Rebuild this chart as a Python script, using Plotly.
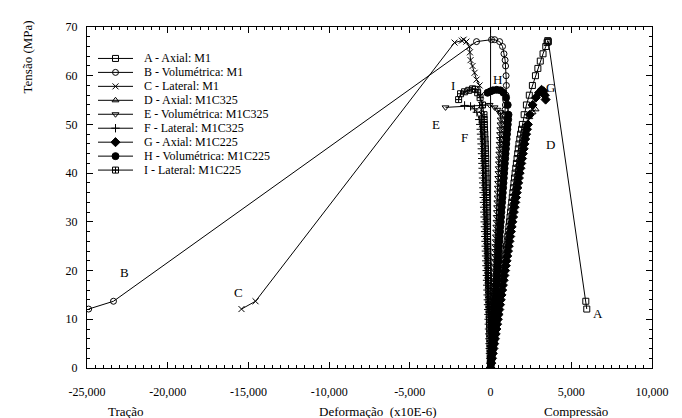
import plotly.graph_objects as go

# ---------------- data (strain x10E-6, stress MPa) ----------------
# stress levels read along the steep (pre-peak) part of the curves
lvl = [0, 1, 2, 3, 4, 5, 6, 7, 8, 9, 10, 11, 12, 13, 14, 15, 16, 17, 18, 19,
       20, 21, 22, 23, 24, 25, 26, 27, 28, 29, 30, 31, 32, 33, 34, 35, 36, 37, 38, 39,
       40, 41, 42, 43, 44, 45, 46, 47, 48, 49, 50, 51, 52, 53, 54, 55, 56]

A_strain = [0, 35, 70, 110, 150, 190, 230, 270, 310, 350, 390, 430, 470, 510, 550, 590, 630, 670, 710, 750,
            790, 830, 870, 910, 950, 990, 1030, 1065, 1100, 1135, 1170, 1205, 1240, 1275, 1310, 1345, 1380, 1415,
            1450, 1485, 1520, 1560, 1600, 1640, 1680, 1720, 1760, 1810, 1860, 1915, 1970,
            2080, 2220, 2400, 2590, 2780, 2930, 3080, 3250, 3420, 3500, 3540, 3580, 5900, 5960]
A_stress = lvl[:51] + [52, 54, 56, 58, 60, 61.5, 63, 64.5, 66, 66.8, 67.2, 67, 13.7, 12.1]

B_strain = [0, 16, 33, 50, 67, 84, 101, 118, 135, 152, 169, 186, 203, 220, 237, 254, 271, 288, 305, 322,
            339, 356, 373, 390, 407, 424, 441, 458, 475, 492, 509, 526, 543, 560, 577, 594, 611, 628, 645, 662,
            679, 696, 713, 730, 747, 764, 781, 798, 815, 832, 849, 866, 883, 900, 918, 936, 954,
            980, 960, 930, 900, 830, 740, 560, 250, 60, -870, -23360, -24900]
B_stress = lvl[:57] + [58, 60, 62, 63.2, 64.5, 66, 67, 67.4, 67.4, 67, 13.7, 12.1]

C_strain = [0, -10, -20, -30, -40, -50, -60, -70, -80, -90, -100, -110, -120, -130, -140, -150, -160, -170,
            -180, -190, -200, -210, -220, -230, -240, -250, -260, -270, -280, -290, -300, -310, -320, -330,
            -340, -350, -360, -370, -380, -390, -400, -410, -420, -430, -440, -450, -462, -475, -490, -505,
            -520, -535, -550, -565, -580,
            -610, -680, -870, -990, -1115, -1240, -1280, -1320, -1500, -1670, -1780, -2230, -14560, -15430]
C_stress = lvl[:55] + [56, 58, 59.2, 60.6, 62, 63.2, 64.8, 66, 67, 67.4, 67.2, 66.8, 13.7, 12.1]

D_strain = [0, 40, 82, 124, 166, 208, 250, 292, 334, 376, 418, 460, 502, 544, 586, 628, 670, 712, 754, 796,
            838, 880, 922, 964, 1006, 1048, 1090, 1132, 1174, 1216, 1258, 1300, 1342, 1384, 1426, 1468, 1510,
            1552, 1594, 1636, 1678, 1722, 1766, 1810, 1856, 1904, 1954, 2006, 2062, 2124, 2196,
            2400, 2600, 2790]
D_stress = lvl[:51] + [51.5, 52.5, 53.1]

E_strain = [0, 12, 25, 37, 49, 62, 74, 86, 98, 111, 123, 135, 148, 160, 172, 185, 197, 209, 221, 234,
            246, 258, 271, 283, 295, 308, 320, 332, 344, 357, 369, 381, 394, 406, 418, 431, 443, 455, 467, 480,
            492, 504, 517, 529, 541, 554, 566, 578, 590, 603, 615, 627, 640,
            620, 430, 250, -60, -2790]
E_stress = lvl[:53] + [52.5, 53, 53.5, 54, 53.5]

F_strain = [0, -12, -24, -36, -48, -60, -72, -84, -96, -108, -120, -132, -144, -156, -168, -180, -192, -204,
            -216, -228, -240, -252, -264, -276, -288, -300, -312, -324, -336, -348, -360, -372, -384, -396,
            -408, -420, -432, -444, -456, -468, -480, -492, -504, -516, -528, -540, -555, -570, -590, -610,
            -640, -700,
            -850, -1000, -1240, -1610]
F_stress = lvl[:52] + [52.5, 53.2, 53.7, 53.9]

G_strain = [0, 45, 90, 135, 180, 225, 270, 315, 360, 405, 450, 495, 540, 585, 630, 675, 720, 765, 810, 855,
            900, 945, 990, 1035, 1080, 1125, 1170, 1215, 1260, 1305, 1350, 1395, 1440, 1485, 1530, 1575, 1620,
            1665, 1710, 1755, 1800, 1850, 1900, 1950, 2000, 2050, 2100, 2150, 2200, 2255, 2310,
            2430, 2600, 2800, 3000, 3160, 3280, 3360, 3410]
G_stress = lvl[:51] + [52, 54, 55.5, 56.5, 57.1, 56.8, 56, 55.1]

H_strain = [0, 21, 42, 63, 84, 105, 126, 147, 168, 189, 210, 231, 252, 273, 294, 315, 336, 357, 378, 399,
            420, 441, 462, 483, 504, 525, 546, 567, 588, 609, 630, 651, 672, 693, 714, 735, 756, 777, 798, 819,
            840, 862, 884, 906, 928, 950, 972, 995, 1018, 1042, 1066, 1090, 1110,
            1060, 960, 800, 600, 380, 150, 0, -190]
H_stress = lvl[:53] + [54, 55.5, 56.5, 57, 57.1, 57, 56.8, 56.5]

I_strain = [0, -7, -14, -21, -28, -35, -42, -49, -56, -63, -70, -77, -84, -91, -98, -105, -112, -119, -126,
            -133, -140, -147, -154, -161, -168, -175, -182, -189, -196, -203, -210, -217, -224, -231, -238,
            -245, -252, -259, -266, -273, -280, -287, -294, -301, -308, -318, -330, -345, -360, -375,
            -385, -395, -405,
            -500, -650, -800, -950, -1115, -1350, -1610, -1860, -1980]
I_stress = lvl[:53] + [54, 55.5, 56.5, 57.2, 57.3, 57, 56.7, 56.3, 55.1]

series_names = ["A - Axial: M1", "B - Volumétrica: M1", "C - Lateral: M1",
                "D - Axial: M1C325", "E - Volumétrica: M1C325", "F - Lateral: M1C325",
                "G - Axial: M1C225", "H - Volumétrica: M1C225", "I - Lateral: M1C225"]
series_x = [A_strain, B_strain, C_strain, D_strain, E_strain, F_strain, G_strain, H_strain, I_strain]
series_y = [A_stress, B_stress, C_stress, D_stress, E_stress, F_stress, G_stress, H_stress, I_stress]
symbols = ["square-open", "circle-open", "x-thin-open", "triangle-up-open", "triangle-down-open",
           "cross-thin-open", "diamond", "circle", "square-cross-open"]
sizes = [6, 6, 6, 6, 6, 6, 7, 7, 6]

label_text = ["A", "B", "C", "D", "E", "F", "G", "H", "I"]
label_x = [6630, -22680, -15610, 3720, -3410, -1610, 3720, 430, -2350]
label_y = [11.1, 19.6, 15.5, 45.8, 49.9, 47.4, 57.5, 59.2, 57.9]

x_tickvals = [-25000, -20000, -15000, -10000, -5000, 0, 5000, 10000]
x_ticktext = ["-25,000", "-20,000", "-15,000", "-10,000", "-5,000", "0", "5,000", "10,000"]
y_tickvals = [0, 10, 20, 30, 40, 50, 60, 70]

FONT = "Liberation Serif"
W, H = 682, 418
L, R, T, B = 79, 38, 13, 58
PW, PH = W - L - R, H - T - B


def px_to_paper_x(px):
    return (px - L) / PW


def px_to_paper_y(py):
    return (H - B - py) / PH


fig = go.Figure()

for name, xs, ys, sym, sz in zip(series_names, series_x, series_y, symbols, sizes):
    fig.add_trace(go.Scatter(
        x=xs, y=ys, mode="lines+markers", name=name, showlegend=False,
        line=dict(color="black", width=1),
        marker=dict(symbol=sym, size=sz, color="black", line=dict(color="black", width=1)),
    ))

# vertical zero line
fig.add_shape(type="line", xref="x", yref="y", x0=0, x1=0, y0=0, y1=70,
              line=dict(color="black", width=1))

# curve labels
for t, lx, ly in zip(label_text, label_x, label_y):
    fig.add_annotation(x=lx, y=ly, xref="x", yref="y", text=t, showarrow=False,
                       xanchor="center", yanchor="middle",
                       font=dict(family=FONT, size=13, color="black"))

# manual legend
leg_x0, leg_x1, leg_txt = px_to_paper_x(90), px_to_paper_x(125), px_to_paper_x(134)
for i, (name, sym, sz) in enumerate(zip(series_names, symbols, sizes)):
    yy = px_to_paper_y(45 + 14.2 * i)
    fig.add_shape(type="line", xref="paper", yref="paper", x0=leg_x0, x1=leg_x1, y0=yy, y1=yy,
                  line=dict(color="black", width=1))
    fig.add_trace(go.Scatter(
        x=[(leg_x0 + leg_x1) / 2], y=[yy], xaxis="x2", yaxis="y2", mode="markers", showlegend=False,
        marker=dict(symbol=sym, size=sz, color="black", line=dict(color="black", width=1)),
        hoverinfo="skip"))
    fig.add_annotation(x=leg_txt, y=yy, xref="paper", yref="paper", text=name, showarrow=False,
                       xanchor="left", yanchor="middle",
                       font=dict(family=FONT, size=12, color="black"))

# y title (top-left, rotated)
fig.add_annotation(x=px_to_paper_x(19), y=px_to_paper_y(44), xref="paper", yref="paper",
                   text="Tensão (MPa)", showarrow=False, textangle=-90,
                   xanchor="center", yanchor="middle",
                   font=dict(family=FONT, size=13, color="black"))

# bottom labels
for txt, px, py in [("Tração", 118, 404), ("Deformação&nbsp; (x10E-6)", 370, 404), ("Compressão", 568, 404)]:
    fig.add_annotation(x=px_to_paper_x(px), y=px_to_paper_y(py), xref="paper", yref="paper",
                       text=txt, showarrow=False, xanchor="center", yanchor="middle",
                       font=dict(family=FONT, size=13, color="black"))

axis_common = dict(showline=True, linecolor="black", linewidth=1.2, mirror="ticks",
                   ticks="inside", tickcolor="black", showgrid=False, zeroline=False,
                   tickfont=dict(family=FONT, size=12, color="black"))

fig.update_layout(
    width=W, height=H,
    margin=dict(l=L, r=R, t=T, b=B),
    paper_bgcolor="white", plot_bgcolor="white",
    font=dict(family=FONT, color="black"),
    xaxis=dict(range=[-25000, 10000], tickvals=x_tickvals, ticktext=x_ticktext, ticklen=6,
               ticklabelstandoff=12,
               minor=dict(dtick=500, ticks="inside", ticklen=3, tickcolor="black"), **axis_common),
    yaxis=dict(range=[0, 70], tickvals=y_tickvals, ticklen=6, ticklabelstandoff=6,
               minor=dict(dtick=2, ticks="inside", ticklen=3, tickcolor="black"), **axis_common),
    xaxis2=dict(overlaying="x", range=[0, 1], visible=False),
    yaxis2=dict(overlaying="y", range=[0, 1], visible=False),
)

fig.write_html("out.html")
